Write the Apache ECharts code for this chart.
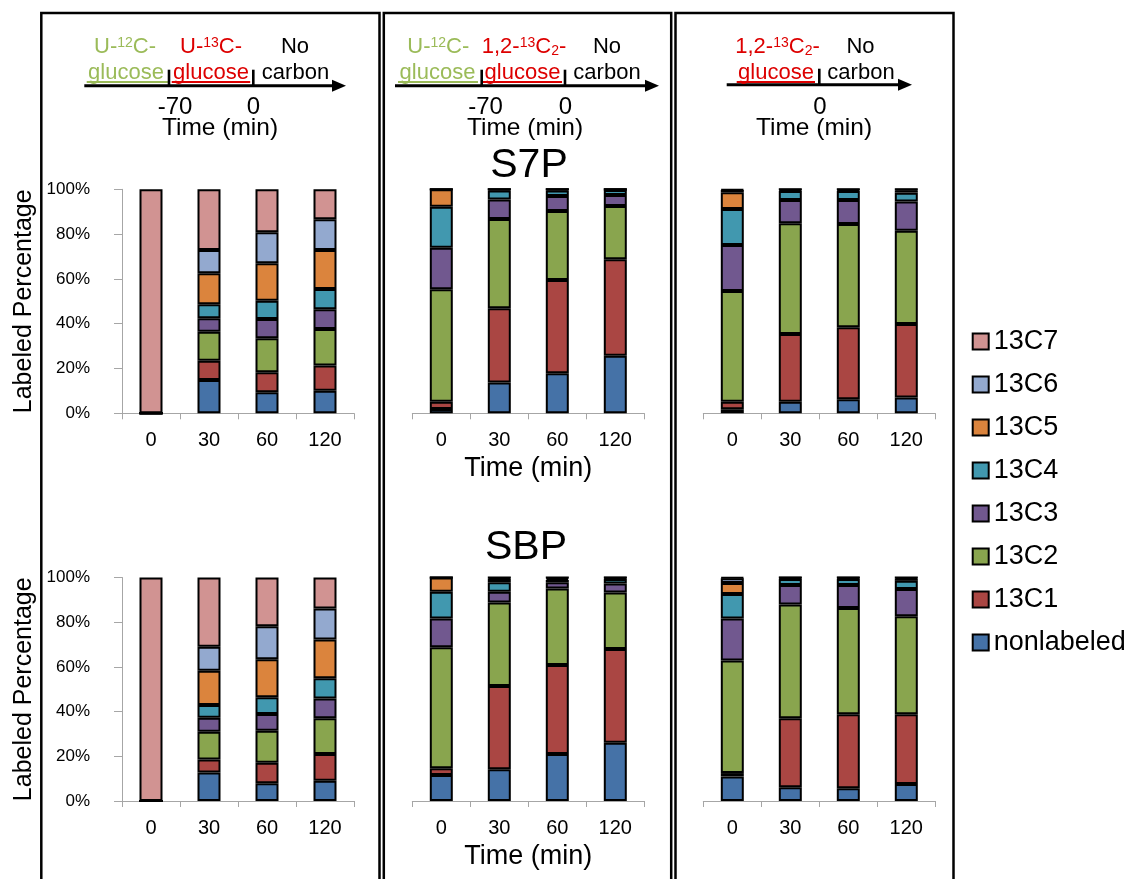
<!DOCTYPE html>
<html><head><meta charset="utf-8">
<script src="https://cdn.jsdelivr.net/npm/echarts@6/dist/echarts.min.js"></script>
<style>html,body{margin:0;padding:0;background:#fff}#c{width:1132px;height:879px}</style>
</head><body><div id="c"></div>
<script>
// ---------- data ----------
const times = ['0', '30', '60', '120'];
const isotopologues = ['nonlabeled', '13C1', '13C2', '13C3', '13C4', '13C5', '13C6', '13C7'];
const legendOrder = ['13C7', '13C6', '13C5', '13C4', '13C3', '13C2', '13C1', 'nonlabeled'];
const colors = ['#4572A7', '#AA4643', '#89A54E', '#71588F', '#4198AF', '#DB843D', '#93A9CF', '#D19392'];

// rows = isotopologue (nonlabeled .. 13C7), columns = time (0, 30, 60, 120 min)
const s7pU13C = [
  [0, 14.9, 9.4, 10.1],
  [0, 8.6, 8.9, 11.2],
  [0, 12.9, 15.2, 16.3],
  [0, 6.0, 8.6, 8.8],
  [0, 6.3, 8.2, 9.1],
  [0, 13.8, 16.7, 17.4],
  [0, 10.4, 13.8, 13.7],
  [100, 27.1, 19.2, 13.4]
];
const s7pPre12C = [
  [1.9, 13.8, 17.9, 25.7],
  [3.3, 33.1, 41.6, 43.1],
  [50.2, 39.8, 30.8, 23.7],
  [18.5, 8.8, 6.7, 5.0],
  [18.3, 4.0, 2.5, 2.2],
  [7.8, 0.5, 0.5, 0.3],
  [0, 0, 0, 0],
  [0, 0, 0, 0]
];
const s7p12C2 = [
  [1.8, 5.2, 6.3, 7.0],
  [3.4, 30.2, 32.1, 32.9],
  [49.4, 49.4, 46.1, 41.6],
  [20.5, 10.4, 10.7, 13.0],
  [16.1, 4.0, 4.0, 4.0],
  [7.5, 0.5, 0.5, 1.0],
  [1.0, 0.3, 0.3, 0.5],
  [0.3, 0, 0, 0]
];
const sbpU13C = [
  [0, 12.8, 7.9, 9.1],
  [0, 5.8, 9.2, 11.9],
  [0, 12.4, 14.3, 16.0],
  [0, 6.2, 7.5, 8.9],
  [0, 5.7, 7.5, 9.0],
  [0, 15.4, 17.0, 17.4],
  [0, 10.7, 14.8, 13.8],
  [100, 31.0, 21.8, 13.9]
];
const sbpPre12C = [
  [11.6, 14.2, 21.0, 26.1],
  [3.0, 37.3, 39.9, 41.9],
  [54.2, 37.3, 34.2, 25.3],
  [12.9, 4.8, 2.8, 4.0],
  [11.9, 4.3, 1.0, 2.0],
  [6.4, 1.6, 0.6, 0.5],
  [0, 0.5, 0.5, 0.2],
  [0, 0, 0, 0]
];
const sbp12C2 = [
  [11.0, 6.1, 5.7, 7.6],
  [1.5, 30.9, 33.1, 31.2],
  [50.4, 50.9, 47.6, 43.9],
  [18.8, 8.7, 10.2, 12.1],
  [10.9, 2.7, 2.7, 3.7],
  [4.9, 0.4, 0.4, 1.0],
  [2.2, 0.3, 0.3, 0.5],
  [0.3, 0, 0, 0]
];
const panels = [s7pU13C, s7pPre12C, s7p12C2, sbpU13C, sbpPre12C, sbp12C2];

// ---------- layout ----------
const FONT = '"Liberation Sans", Arial, sans-serif';
const GREEN = '#9BBB59', RED = '#DD0000', GRAY = '#A6A6A6';
const gridLefts = [122, 412.3, 703.3];
const gridWidth = 232;
const gridTops = [189.3, 577.5];
const gridHeights = [224, 223.5];

const grids = [], xAxes = [], yAxes = [], series = [];
for (let p = 0; p < 6; p++) {
  const row = Math.floor(p / 3), col = p % 3;
  grids.push({ left: gridLefts[col], top: gridTops[row], width: gridWidth, height: gridHeights[row] });
  const xa = {
    gridIndex: p, type: 'category', data: times,
    axisLine: { show: true, lineStyle: { color: GRAY, width: 1 } },
    axisTick: { show: true, length: 6, alignWithLabel: false, lineStyle: { color: GRAY } },
    axisLabel: { color: '#000', fontSize: 20, fontFamily: FONT, margin: 17 },
    splitLine: { show: false }
  };
  if (col === 1) {
    Object.assign(xa, { name: 'Time (min)', nameLocation: 'middle', nameGap: 42,
      nameTextStyle: { color: '#000', fontSize: 27, fontFamily: FONT } });
  }
  xAxes.push(xa);
  const ya = { gridIndex: p, type: 'value', min: 0, max: 100, interval: 20, splitLine: { show: false } };
  if (col === 0) {
    Object.assign(ya, {
      axisLine: { show: true, lineStyle: { color: GRAY, width: 1 } },
      axisTick: { show: true, length: 8, lineStyle: { color: GRAY } },
      axisLabel: { color: '#000', fontSize: 17, fontFamily: FONT, margin: 32, formatter: '{value}%' },
      name: 'Labeled Percentage', nameLocation: 'middle', nameRotate: 90, nameGap: 85,
      nameTextStyle: { color: '#000', fontSize: 25, fontFamily: FONT }
    });
  } else {
    Object.assign(ya, { show: false });
  }
  yAxes.push(ya);
  const data = panels[p];
  for (let k = 0; k < isotopologues.length; k++) {
    series.push({
      name: isotopologues[k], type: 'bar', stack: 'p' + p,
      xAxisIndex: p, yAxisIndex: p, barWidth: 23,
      itemStyle: { color: colors[k], borderColor: '#000', borderWidth: 2 },
      emphasis: { disabled: true },
      data: data[k]
    });
  }
}

// ---------- annotations ----------
const g = [];
function txt(x, y, text, size, fill, rich) {
  const style = { text: text, fill: fill, font: size + 'px ' + FONT,
    align: 'center', verticalAlign: 'middle', textAlign: 'center', textVerticalAlign: 'middle' };
  if (rich) style.rich = rich;
  g.push({ type: 'text', x: x, y: y, z: 100, style: style });
}
function richFor(color) {
  return {
    n: { fontSize: 22, fontFamily: FONT, fill: color, lineHeight: 22, verticalAlign: 'bottom' },
    s: { fontSize: 14, fontFamily: FONT, fill: color, lineHeight: 16, verticalAlign: 'top' },
    b: { fontSize: 14, fontFamily: FONT, fill: color, lineHeight: 12, verticalAlign: 'bottom' }
  };
}
function rect(x, y, w, h, fill) { g.push({ type: 'rect', z: 100, shape: { x: x, y: y, width: w, height: h }, style: { fill: fill } }); }
function arrow(x1, x2, y) {
  g.push({ type: 'line', z: 100, shape: { x1: x1, y1: y, x2: x2 - 12, y2: y }, style: { stroke: '#000', lineWidth: 3 } });
  g.push({ type: 'polygon', z: 100, shape: { points: [[x2, y], [x2 - 14, y - 6], [x2 - 14, y + 6]] }, style: { fill: '#000' } });
}
function tick(x, y) { g.push({ type: 'line', z: 100, shape: { x1: x, y1: y - 16, x2: x, y2: y }, style: { stroke: '#000', lineWidth: 2.6 } }); }
function box(x1, x2) { g.push({ type: 'rect', z: 100, shape: { x: x1, y: 13, width: x2 - x1, height: 920 }, style: { fill: 'none', stroke: '#000', lineWidth: 2.5 } }); }

const L1 = 47, L2 = 72.5, AY = 85.7, TY = 107.7, TT = 128.5;
// panel 1
rect(86.7, 81, 81.5, 2, GREEN); rect(171.7, 81, 78.5, 2, RED);
arrow(84.3, 346, AY); tick(169, AY); tick(253.3, AY);
txt(125, L1, '{n|U-}{s|12}{n|C-}', 22, GREEN, richFor(GREEN));
txt(126, L2, 'glucose', 22, GREEN);
txt(211, L1, '{n|U-}{s|13}{n|C-}', 22, RED, richFor(RED));
txt(211, L2, 'glucose', 22, RED);
txt(295, L1, 'No', 22, '#000'); txt(295.5, L2, 'carbon', 22, '#000');
txt(175, TY, '-70', 24, '#000'); txt(253.3, TY, '0', 24, '#000');
txt(220, TT, 'Time (min)', 24.5, '#000');
// panel 2
rect(398, 81, 80, 2, GREEN); rect(483, 81, 79, 2, RED);
arrow(395, 659, AY); tick(481.7, AY); tick(565, AY);
txt(438.3, L1, '{n|U-}{s|12}{n|C-}', 22, GREEN, richFor(GREEN));
txt(437.5, L2, 'glucose', 22, GREEN);
txt(524, L1, '{n|1,2-}{s|13}{n|C}{b|2}{n|-}', 22, RED, richFor(RED));
txt(522.5, L2, 'glucose', 22, RED);
txt(607, L1, 'No', 22, '#000'); txt(607, L2, 'carbon', 22, '#000');
txt(485.5, TY, '-70', 24, '#000'); txt(565.5, TY, '0', 24, '#000');
txt(525, TT, 'Time (min)', 24.5, '#000');
// panel 3
rect(736.7, 81, 78.3, 2, RED);
arrow(726.7, 912, AY - 1); tick(819.3, AY - 1);
txt(777.5, L1, '{n|1,2-}{s|13}{n|C}{b|2}{n|-}', 22, RED, richFor(RED));
txt(776, L2, 'glucose', 22, RED);
txt(860.5, L1, 'No', 22, '#000'); txt(861, L2, 'carbon', 22, '#000');
txt(820, TY, '0', 24, '#000');
txt(814, TT, 'Time (min)', 24.5, '#000');
// metabolite titles
txt(529, 166, 'S7P', 41, '#000');
txt(526, 548, 'SBP', 41, '#000');
// panel frames
box(41.3, 379.5); box(383.8, 671.2); box(675.5, 953.5);

const chart = echarts.init(document.getElementById('c'), null, { renderer: 'canvas' });
chart.setOption({
  animation: false,
  backgroundColor: '#fff',
  grid: grids, xAxis: xAxes, yAxis: yAxes, series: series,
  legend: {
    data: legendOrder, orient: 'vertical', left: 971.7, top: 328, padding: 0,
    icon: 'rect', itemWidth: 16, itemHeight: 16, itemGap: 16,
    itemStyle: { borderColor: '#000', borderWidth: 2 },
    textStyle: { color: '#000', fontSize: 27, lineHeight: 27, fontFamily: FONT },
    selectedMode: false
  },
  graphic: g
});
</script>
</body></html>
